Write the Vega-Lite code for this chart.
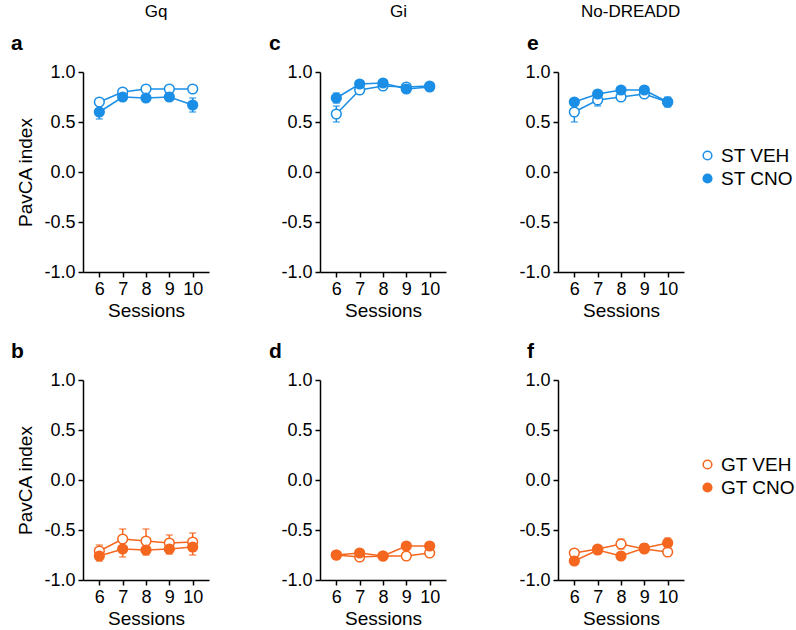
{
  "$schema": "https://vega.github.io/schema/vega-lite/v6.json",
  "padding": {"left": 11, "top": 3, "right": 5, "bottom": 2},
  "datasets": {
    "d": [
      {"panel":"a","session":6,"group":"ST VEH","value":0.70,"lo":0.67,"hi":0.73},
      {"panel":"a","session":7,"group":"ST VEH","value":0.80,"lo":0.78,"hi":0.82},
      {"panel":"a","session":8,"group":"ST VEH","value":0.83,"lo":0.81,"hi":0.85},
      {"panel":"a","session":9,"group":"ST VEH","value":0.83,"lo":0.81,"hi":0.85},
      {"panel":"a","session":10,"group":"ST VEH","value":0.83,"lo":0.81,"hi":0.85},
      {"panel":"a","session":6,"group":"ST CNO","value":0.60,"lo":0.53,"hi":0.67},
      {"panel":"a","session":7,"group":"ST CNO","value":0.75,"lo":0.72,"hi":0.78},
      {"panel":"a","session":8,"group":"ST CNO","value":0.74,"lo":0.71,"hi":0.77},
      {"panel":"a","session":9,"group":"ST CNO","value":0.75,"lo":0.72,"hi":0.78},
      {"panel":"a","session":10,"group":"ST CNO","value":0.67,"lo":0.60,"hi":0.74},
      {"panel":"b","session":6,"group":"GT VEH","value":-0.71,"lo":-0.77,"hi":-0.65},
      {"panel":"b","session":7,"group":"GT VEH","value":-0.59,"lo":-0.69,"hi":-0.49},
      {"panel":"b","session":8,"group":"GT VEH","value":-0.61,"lo":-0.73,"hi":-0.49},
      {"panel":"b","session":9,"group":"GT VEH","value":-0.63,"lo":-0.71,"hi":-0.55},
      {"panel":"b","session":10,"group":"GT VEH","value":-0.62,"lo":-0.71,"hi":-0.53},
      {"panel":"b","session":6,"group":"GT CNO","value":-0.76,"lo":-0.81,"hi":-0.71},
      {"panel":"b","session":7,"group":"GT CNO","value":-0.69,"lo":-0.77,"hi":-0.61},
      {"panel":"b","session":8,"group":"GT CNO","value":-0.70,"lo":-0.75,"hi":-0.65},
      {"panel":"b","session":9,"group":"GT CNO","value":-0.69,"lo":-0.74,"hi":-0.64},
      {"panel":"b","session":10,"group":"GT CNO","value":-0.67,"lo":-0.75,"hi":-0.59},
      {"panel":"c","session":6,"group":"ST VEH","value":0.58,"lo":0.50,"hi":0.66},
      {"panel":"c","session":7,"group":"ST VEH","value":0.82,"lo":0.79,"hi":0.85},
      {"panel":"c","session":8,"group":"ST VEH","value":0.86,"lo":0.84,"hi":0.88},
      {"panel":"c","session":9,"group":"ST VEH","value":0.85,"lo":0.83,"hi":0.87},
      {"panel":"c","session":10,"group":"ST VEH","value":0.86,"lo":0.84,"hi":0.88},
      {"panel":"c","session":6,"group":"ST CNO","value":0.74,"lo":0.69,"hi":0.79},
      {"panel":"c","session":7,"group":"ST CNO","value":0.88,"lo":0.86,"hi":0.90},
      {"panel":"c","session":8,"group":"ST CNO","value":0.89,"lo":0.87,"hi":0.91},
      {"panel":"c","session":9,"group":"ST CNO","value":0.83,"lo":0.81,"hi":0.85},
      {"panel":"c","session":10,"group":"ST CNO","value":0.85,"lo":0.83,"hi":0.87},
      {"panel":"d","session":6,"group":"GT VEH","value":-0.75,"lo":-0.77,"hi":-0.73},
      {"panel":"d","session":7,"group":"GT VEH","value":-0.77,"lo":-0.79,"hi":-0.75},
      {"panel":"d","session":8,"group":"GT VEH","value":-0.76,"lo":-0.78,"hi":-0.74},
      {"panel":"d","session":9,"group":"GT VEH","value":-0.76,"lo":-0.78,"hi":-0.74},
      {"panel":"d","session":10,"group":"GT VEH","value":-0.73,"lo":-0.75,"hi":-0.71},
      {"panel":"d","session":6,"group":"GT CNO","value":-0.75,"lo":-0.77,"hi":-0.73},
      {"panel":"d","session":7,"group":"GT CNO","value":-0.73,"lo":-0.75,"hi":-0.71},
      {"panel":"d","session":8,"group":"GT CNO","value":-0.76,"lo":-0.78,"hi":-0.74},
      {"panel":"d","session":9,"group":"GT CNO","value":-0.66,"lo":-0.68,"hi":-0.64},
      {"panel":"d","session":10,"group":"GT CNO","value":-0.66,"lo":-0.68,"hi":-0.64},
      {"panel":"e","session":6,"group":"ST VEH","value":0.60,"lo":0.50,"hi":0.70},
      {"panel":"e","session":7,"group":"ST VEH","value":0.72,"lo":0.66,"hi":0.78},
      {"panel":"e","session":8,"group":"ST VEH","value":0.75,"lo":0.72,"hi":0.78},
      {"panel":"e","session":9,"group":"ST VEH","value":0.78,"lo":0.75,"hi":0.81},
      {"panel":"e","session":10,"group":"ST VEH","value":0.70,"lo":0.65,"hi":0.75},
      {"panel":"e","session":6,"group":"ST CNO","value":0.70,"lo":0.67,"hi":0.73},
      {"panel":"e","session":7,"group":"ST CNO","value":0.78,"lo":0.75,"hi":0.81},
      {"panel":"e","session":8,"group":"ST CNO","value":0.82,"lo":0.80,"hi":0.84},
      {"panel":"e","session":9,"group":"ST CNO","value":0.82,"lo":0.80,"hi":0.84},
      {"panel":"e","session":10,"group":"ST CNO","value":0.70,"lo":0.66,"hi":0.74},
      {"panel":"f","session":6,"group":"GT VEH","value":-0.73,"lo":-0.76,"hi":-0.70},
      {"panel":"f","session":7,"group":"GT VEH","value":-0.69,"lo":-0.72,"hi":-0.66},
      {"panel":"f","session":8,"group":"GT VEH","value":-0.64,"lo":-0.69,"hi":-0.59},
      {"panel":"f","session":9,"group":"GT VEH","value":-0.69,"lo":-0.72,"hi":-0.66},
      {"panel":"f","session":10,"group":"GT VEH","value":-0.72,"lo":-0.75,"hi":-0.69},
      {"panel":"f","session":6,"group":"GT CNO","value":-0.81,"lo":-0.84,"hi":-0.78},
      {"panel":"f","session":7,"group":"GT CNO","value":-0.70,"lo":-0.74,"hi":-0.66},
      {"panel":"f","session":8,"group":"GT CNO","value":-0.76,"lo":-0.79,"hi":-0.73},
      {"panel":"f","session":9,"group":"GT CNO","value":-0.68,"lo":-0.72,"hi":-0.64},
      {"panel":"f","session":10,"group":"GT CNO","value":-0.63,"lo":-0.68,"hi":-0.58}
    ]
  },
  "data": {"name": "d"},
  "spacing": 60,
  "resolve": {"scale": {"fill": "independent"}, "legend": {"fill": "independent"}},
  "hconcat": [
    {
      "title": {"text": "Gq", "fontSize": 17, "fontWeight": "normal", "anchor": "middle", "frame": "bounds", "dx": 46, "offset": 12},
      "spacing": 21,
      "resolve": {"scale": {"fill": "independent"}, "legend": {"fill": "independent"}},
      "vconcat": [
        {
          "title": {"text": "a", "dx": -72},
          "width": 126, "height": 200,
          "transform": [{"filter": "datum.panel === 'a'"}],
          "encoding": {
            "x": {"field": "session", "type": "quantitative", "scale": {"domain": [5.3, 10.7], "nice": false, "zero": false}, "axis": {"values": [6, 7, 8, 9, 10], "title": "Sessions"}},
            "y": {"field": "value", "type": "quantitative", "scale": {"domain": [-1, 1], "nice": false}, "axis": {"values": [-1, -0.5, 0, 0.5, 1], "title": "PavCA index", "labelExpr": "datum.value < 0 ? '-' + format(-datum.value, '.1f') : format(datum.value, '.1f')"}}
          },
          "layer": [
            {"mark": {"type": "errorbar", "ticks": {"size": 7}, "thickness": 1.5, "color": "#1b8ee6"}, "encoding": {"y": {"field": "lo", "type": "quantitative"}, "y2": {"field": "hi"}}},
            {"mark": {"type": "line", "strokeWidth": 1.5, "color": "#1b8ee6"}, "encoding": {"detail": {"field": "group", "type": "nominal"}}},
            {"mark": {"type": "point", "shape": "circle", "filled": true, "stroke": "#1b8ee6", "size": 95, "strokeWidth": 1.5, "opacity": 1}, "encoding": {"fill": {"field": "group", "type": "nominal", "scale": {"domain": ["ST VEH", "ST CNO"], "range": ["white", "#1b8ee6"]}, "legend": null}}}
          ]
        },
        {
          "title": {"text": "b", "dx": -72},
          "width": 126, "height": 200,
          "transform": [{"filter": "datum.panel === 'b'"}],
          "encoding": {
            "x": {"field": "session", "type": "quantitative", "scale": {"domain": [5.3, 10.7], "nice": false, "zero": false}, "axis": {"values": [6, 7, 8, 9, 10], "title": "Sessions"}},
            "y": {"field": "value", "type": "quantitative", "scale": {"domain": [-1, 1], "nice": false}, "axis": {"values": [-1, -0.5, 0, 0.5, 1], "title": "PavCA index", "labelExpr": "datum.value < 0 ? '-' + format(-datum.value, '.1f') : format(datum.value, '.1f')"}}
          },
          "layer": [
            {"mark": {"type": "errorbar", "ticks": {"size": 7}, "thickness": 1.5, "color": "#f5671f"}, "encoding": {"y": {"field": "lo", "type": "quantitative"}, "y2": {"field": "hi"}}},
            {"mark": {"type": "line", "strokeWidth": 1.5, "color": "#f5671f"}, "encoding": {"detail": {"field": "group", "type": "nominal"}}},
            {"mark": {"type": "point", "shape": "circle", "filled": true, "stroke": "#f5671f", "size": 95, "strokeWidth": 1.5, "opacity": 1}, "encoding": {"fill": {"field": "group", "type": "nominal", "scale": {"domain": ["GT VEH", "GT CNO"], "range": ["white", "#f5671f"]}, "legend": null}}}
          ]
        }
      ]
    },
    {
      "spacing": 72,
      "resolve": {"scale": {"fill": "independent"}, "legend": {"fill": "independent"}},
      "hconcat": [
        {
          "title": {"text": "Gi", "fontSize": 17, "fontWeight": "normal", "anchor": "middle", "frame": "bounds", "dx": 41, "offset": 12},
          "spacing": 21,
          "resolve": {"scale": {"fill": "independent"}, "legend": {"fill": "independent"}},
          "vconcat": [
            {
              "title": {"text": "c", "dx": -51},
              "width": 126, "height": 200,
              "transform": [{"filter": "datum.panel === 'c'"}],
              "encoding": {
                "x": {"field": "session", "type": "quantitative", "scale": {"domain": [5.3, 10.7], "nice": false, "zero": false}, "axis": {"values": [6, 7, 8, 9, 10], "title": "Sessions"}},
                "y": {"field": "value", "type": "quantitative", "scale": {"domain": [-1, 1], "nice": false}, "axis": {"values": [-1, -0.5, 0, 0.5, 1], "title": null, "labelExpr": "datum.value < 0 ? '-' + format(-datum.value, '.1f') : format(datum.value, '.1f')"}}
              },
              "layer": [
                {"mark": {"type": "errorbar", "ticks": {"size": 7}, "thickness": 1.5, "color": "#1b8ee6"}, "encoding": {"y": {"field": "lo", "type": "quantitative"}, "y2": {"field": "hi"}}},
                {"mark": {"type": "line", "strokeWidth": 1.5, "color": "#1b8ee6"}, "encoding": {"detail": {"field": "group", "type": "nominal"}}},
                {"mark": {"type": "point", "shape": "circle", "filled": true, "stroke": "#1b8ee6", "size": 95, "strokeWidth": 1.5, "opacity": 1}, "encoding": {"fill": {"field": "group", "type": "nominal", "scale": {"domain": ["ST VEH", "ST CNO"], "range": ["white", "#1b8ee6"]}, "legend": null}}}
              ]
            },
            {
              "title": {"text": "d", "dx": -51},
              "width": 126, "height": 200,
              "transform": [{"filter": "datum.panel === 'd'"}],
              "encoding": {
                "x": {"field": "session", "type": "quantitative", "scale": {"domain": [5.3, 10.7], "nice": false, "zero": false}, "axis": {"values": [6, 7, 8, 9, 10], "title": "Sessions"}},
                "y": {"field": "value", "type": "quantitative", "scale": {"domain": [-1, 1], "nice": false}, "axis": {"values": [-1, -0.5, 0, 0.5, 1], "title": null, "labelExpr": "datum.value < 0 ? '-' + format(-datum.value, '.1f') : format(datum.value, '.1f')"}}
              },
              "layer": [
                {"mark": {"type": "errorbar", "ticks": {"size": 7}, "thickness": 1.5, "color": "#f5671f"}, "encoding": {"y": {"field": "lo", "type": "quantitative"}, "y2": {"field": "hi"}}},
                {"mark": {"type": "line", "strokeWidth": 1.5, "color": "#f5671f"}, "encoding": {"detail": {"field": "group", "type": "nominal"}}},
                {"mark": {"type": "point", "shape": "circle", "filled": true, "stroke": "#f5671f", "size": 95, "strokeWidth": 1.5, "opacity": 1}, "encoding": {"fill": {"field": "group", "type": "nominal", "scale": {"domain": ["GT VEH", "GT CNO"], "range": ["white", "#f5671f"]}, "legend": null}}}
              ]
            }
          ]
        },
        {
          "title": {"text": "No-DREADD", "fontSize": 17, "fontWeight": "normal", "anchor": "start", "frame": "bounds", "dx": 62, "offset": 12},
          "spacing": 21,
          "resolve": {"scale": {"fill": "independent"}, "legend": {"fill": "independent"}},
          "vconcat": [
            {
              "title": {"text": "e", "dx": -31},
              "width": 126, "height": 200,
              "transform": [{"filter": "datum.panel === 'e'"}],
              "encoding": {
                "x": {"field": "session", "type": "quantitative", "scale": {"domain": [5.3, 10.7], "nice": false, "zero": false}, "axis": {"values": [6, 7, 8, 9, 10], "title": "Sessions"}},
                "y": {"field": "value", "type": "quantitative", "scale": {"domain": [-1, 1], "nice": false}, "axis": {"values": [-1, -0.5, 0, 0.5, 1], "title": null, "labelExpr": "datum.value < 0 ? '-' + format(-datum.value, '.1f') : format(datum.value, '.1f')"}}
              },
              "layer": [
                {"mark": {"type": "errorbar", "ticks": {"size": 7}, "thickness": 1.5, "color": "#1b8ee6"}, "encoding": {"y": {"field": "lo", "type": "quantitative"}, "y2": {"field": "hi"}}},
                {"mark": {"type": "line", "strokeWidth": 1.5, "color": "#1b8ee6"}, "encoding": {"detail": {"field": "group", "type": "nominal"}}},
                {"mark": {"type": "point", "shape": "circle", "filled": true, "stroke": "#1b8ee6", "size": 95, "strokeWidth": 1.5, "opacity": 1}, "encoding": {"fill": {"field": "group", "type": "nominal", "scale": {"domain": ["ST VEH", "ST CNO"], "range": ["white", "#1b8ee6"]}, "legend": {"orient": "none", "legendX": 140, "legendY": 74, "title": null, "symbolType": "circle", "symbolStrokeColor": "#1b8ee6", "symbolStrokeWidth": 1.5}}}}
              ]
            },
            {
              "title": {"text": "f", "dx": -31},
              "width": 126, "height": 200,
              "transform": [{"filter": "datum.panel === 'f'"}],
              "encoding": {
                "x": {"field": "session", "type": "quantitative", "scale": {"domain": [5.3, 10.7], "nice": false, "zero": false}, "axis": {"values": [6, 7, 8, 9, 10], "title": "Sessions"}},
                "y": {"field": "value", "type": "quantitative", "scale": {"domain": [-1, 1], "nice": false}, "axis": {"values": [-1, -0.5, 0, 0.5, 1], "title": null, "labelExpr": "datum.value < 0 ? '-' + format(-datum.value, '.1f') : format(datum.value, '.1f')"}}
              },
              "layer": [
                {"mark": {"type": "errorbar", "ticks": {"size": 7}, "thickness": 1.5, "color": "#f5671f"}, "encoding": {"y": {"field": "lo", "type": "quantitative"}, "y2": {"field": "hi"}}},
                {"mark": {"type": "line", "strokeWidth": 1.5, "color": "#f5671f"}, "encoding": {"detail": {"field": "group", "type": "nominal"}}},
                {"mark": {"type": "point", "shape": "circle", "filled": true, "stroke": "#f5671f", "size": 95, "strokeWidth": 1.5, "opacity": 1}, "encoding": {"fill": {"field": "group", "type": "nominal", "scale": {"domain": ["GT VEH", "GT CNO"], "range": ["white", "#f5671f"]}, "legend": {"orient": "none", "legendX": 140, "legendY": 75, "title": null, "symbolType": "circle", "symbolStrokeColor": "#f5671f", "symbolStrokeWidth": 1.5}}}}
              ]
            }
          ]
        }
      ]
    }
  ],
  "config": {
    "font": "Liberation Sans",
    "view": {"stroke": null},
    "axis": {"grid": false, "domainColor": "black", "tickColor": "black", "labelColor": "black", "titleColor": "black", "domainWidth": 1.5, "tickWidth": 1.5, "tickSize": 5, "labelFontSize": 18, "titleFontSize": 19, "titleFontWeight": "normal", "labelPadding": 3, "titlePadding": 4, "labelFont": "Liberation Sans", "titleFont": "Liberation Sans"},
    "axisX": {"titlePadding": 3},
    "axisY": {"titlePadding": 8},
    "title": {"fontSize": 21, "fontWeight": "bold", "anchor": "start", "frame": "group", "color": "black", "offset": 9, "font": "Liberation Sans"},
    "legend": {"labelFontSize": 19, "labelColor": "black", "symbolSize": 75, "symbolStrokeWidth": 1.5, "rowPadding": 3, "labelOffset": 4, "labelFont": "Liberation Sans"}
  }
}
